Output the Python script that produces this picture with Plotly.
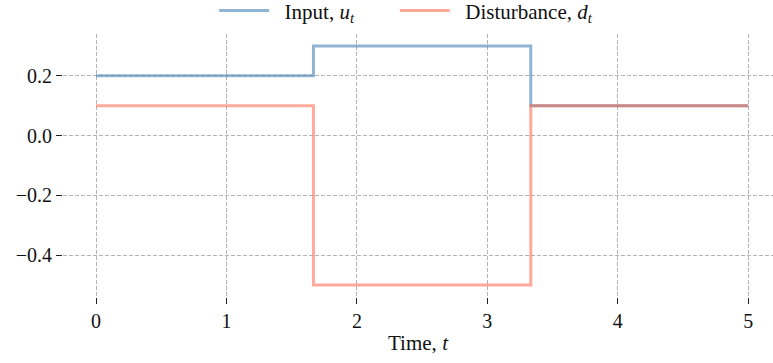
import plotly.graph_objects as go

# Piecewise-constant signals over time
time_breaks = [0.0, 1.667, 3.333, 5.0]
input_u = [0.2, 0.3, 0.1, 0.1]
disturbance_d = [0.1, -0.5, 0.1, 0.1]

x_ticks = [0, 1, 2, 3, 4, 5]
y_ticks = [0.2, 0.0, -0.2, -0.4]
y_tick_text = ["0.2", "0.0", "\u22120.2", "\u22120.4"]

FONT = "Liberation Serif, DejaVu Serif, serif"
GAP = "\u2002"                      # gap between legend swatch and its label
ENTRY_GAP = "\u2003\u2002\u2009"    # extra room between legend entries

fig = go.Figure()
fig.add_trace(go.Scatter(
    x=time_breaks, y=input_u, mode="lines", line_shape="hv",
    line=dict(color="rgba(70,130,180,0.6)", width=3),
    name=GAP + "Input, <i>u</i><sub><i>t</i></sub>" + ENTRY_GAP,
))
fig.add_trace(go.Scatter(
    x=time_breaks, y=disturbance_d, mode="lines", line_shape="hv",
    line=dict(color="rgba(255,99,71,0.55)", width=3),
    name=GAP + "Disturbance, <i>d</i><sub><i>t</i></sub>",
))

axis_common = dict(
    showline=False, zeroline=False,
    showgrid=True, gridcolor="#b4b4b4", gridwidth=1, griddash="4px,2px",
    ticks="outside", ticklen=6, tickwidth=1.2, tickcolor="#222222",
    tickfont=dict(family=FONT, size=20, color="#111111"),
)

fig.update_xaxes(
    range=[-0.253, 5.19], tickvals=x_ticks,
    title=dict(text="Time, <i>t</i>", font=dict(family=FONT, size=21, color="#111111"), standoff=4),
    **axis_common,
)
fig.update_yaxes(
    range=[-0.54, 0.34], tickvals=y_ticks, ticktext=y_tick_text,
    **axis_common,
)

fig.update_layout(
    width=773, height=363,
    margin=dict(l=63, r=0, t=34, b=66, autoexpand=False),
    plot_bgcolor="white", paper_bgcolor="white",
    font=dict(family=FONT, size=20, color="#111111"),
    showlegend=True,
    legend=dict(
        orientation="h", x=0.277, xanchor="left", xref="container",
        y=0.97, yref="container", yanchor="middle",
        font=dict(family=FONT, size=21, color="#111111"),
        itemwidth=50, bgcolor="rgba(0,0,0,0)",
        traceorder="normal",
    ),
)

fig.write_html("out.html")
